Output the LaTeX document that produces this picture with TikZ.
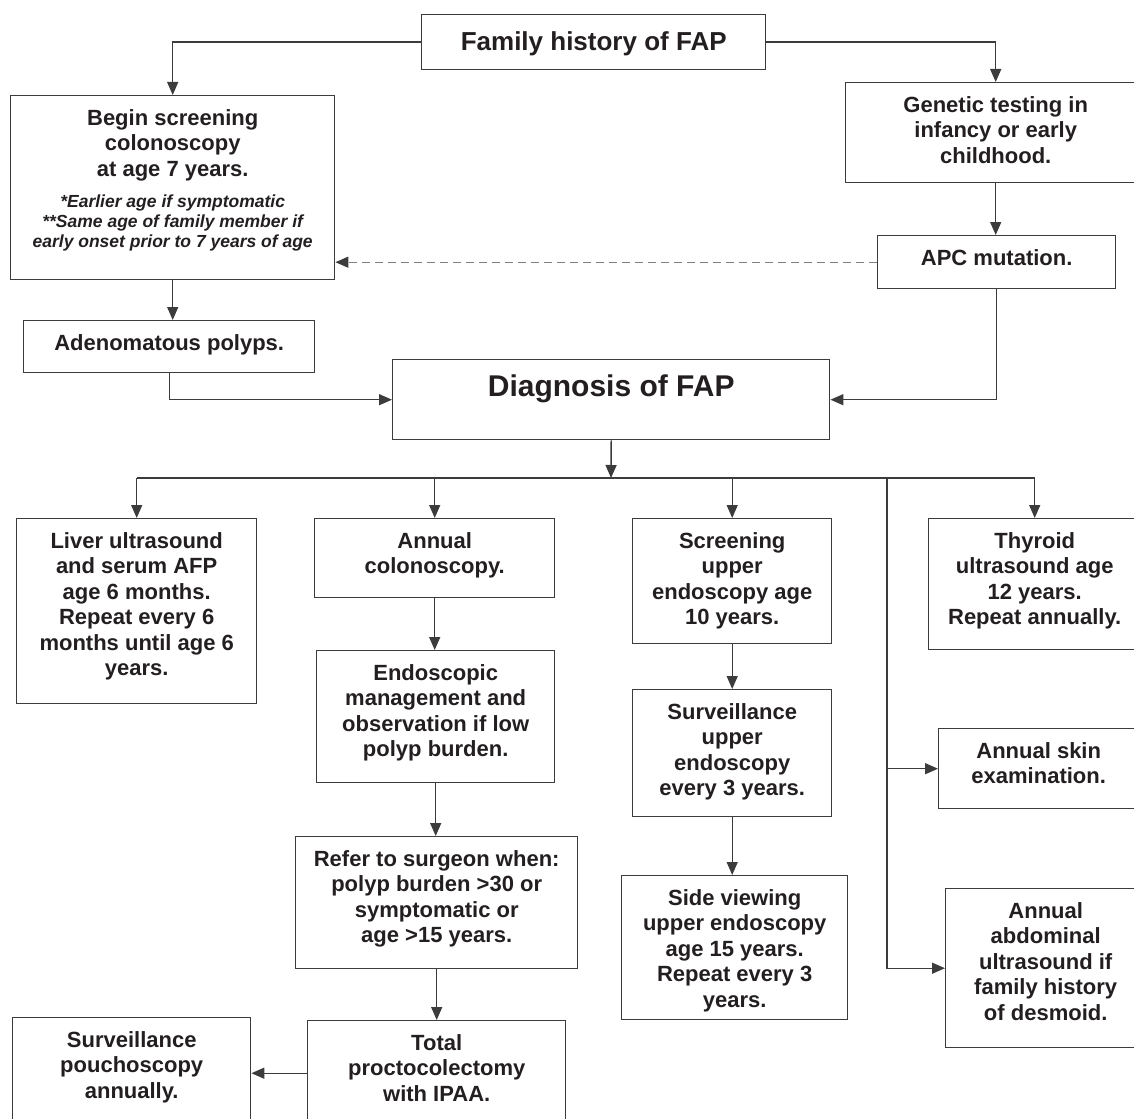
\documentclass[tikz,border=0pt]{standalone}
\usepackage{fontspec}
\setmainfont{Liberation Sans}
\usepackage{tikz}
\usetikzlibrary{positioning,arrows.meta}
\definecolor{linegray}{HTML}{3C3C3C}
\definecolor{inkblack}{HTML}{231F20}

\begin{document}
\begin{tikzpicture}[x=1pt,y=-1pt,
  box/.style={draw=linegray, line width=1.4pt, inner sep=0pt, anchor=north west},
  txt/.style={inner sep=0pt, align=center, text=inkblack, font=\bfseries\fontsize{22}{25.5}\selectfont},
  note/.style={inner sep=0pt, align=center, text=inkblack, font=\bfseries\itshape\fontsize{17.5}{20}\selectfont},
  arr/.style={draw=linegray, line width=1.4pt, -{Triangle[length=13pt,width=11pt,color=linegray]}},
  lin/.style={draw=linegray, line width=1.4pt}]
\useasboundingbox (0,0) rectangle (1134,1118);

% top row
\node[box, minimum width=344pt, minimum height=55pt] (fam) at (421,14) {};
\node[txt, font=\bfseries\fontsize{26}{30}\selectfont, below=17pt of fam.north] (famtxt) {Family history of FAP};

\node[box, minimum width=324pt, minimum height=184pt] (begin) at (10,95) {};
\node[txt, below=14pt of begin.north] (begintxt) {Begin screening\\colonoscopy\\at age 7 years.};
\node[note, below=100pt of begin.north] (beginnote) {*Earlier age if symptomatic\\**Same age of family member if\\early onset prior to 7 years of age};

\node[box, minimum width=300pt, minimum height=100pt] (gen) at (845,82) {};
\node[txt, below=14pt of gen.north] (gentxt) {Genetic testing in\\infancy or early\\childhood.};

\node[box, minimum width=238pt, minimum height=53pt] (apc) at (877,235) {};
\node[txt, below=14pt of apc.north] (apctxt) {APC mutation.};

\node[box, minimum width=291pt, minimum height=52pt] (adeno) at (23,320) {};
\node[txt, below=14pt of adeno.north] (adenotxt) {Adenomatous polyps.};

\node[box, minimum width=437pt, minimum height=80pt] (diag) at (392,359) {};
\node[txt, font=\bfseries\fontsize{30}{34}\selectfont, below=16pt of diag.north] (diagtxt) {Diagnosis of FAP};

% follow-up branches
\node[box, minimum width=240pt, minimum height=185pt] (liver) at (16,518) {};
\node[txt, below=14pt of liver.north] (livertxt) {Liver ultrasound\\and serum AFP\\age 6 months.\\Repeat every 6\\months until age 6\\years.};

\node[box, minimum width=240pt, minimum height=79pt] (anncol) at (314,518) {};
\node[txt, below=14pt of anncol.north] (anncoltxt) {Annual\\colonoscopy.};

\node[box, minimum width=238pt, minimum height=132pt] (endo) at (316,650) {};
\node[txt, below=14pt of endo.north] (endotxt) {Endoscopic\\management and\\observation if low\\polyp burden.};

\node[box, minimum width=282pt, minimum height=132pt] (refer) at (295,836) {};
\node[txt, below=14pt of refer.north] (refertxt) {Refer to surgeon when:\\polyp burden >30 or\\symptomatic or\\age >15 years.};

\node[box, minimum width=258pt, minimum height=105pt] (total) at (307,1020) {};
\node[txt, below=14pt of total.north] (totaltxt) {Total\\proctocolectomy\\with IPAA.};

\node[box, minimum width=238pt, minimum height=108pt] (pouch) at (12,1017) {};
\node[txt, below=14pt of pouch.north] (pouchtxt) {Surveillance\\pouchoscopy\\annually.};

\node[box, minimum width=199pt, minimum height=125pt] (scrn) at (632,518) {};
\node[txt, below=14pt of scrn.north] (scrntxt) {Screening\\upper\\endoscopy age\\10 years.};

\node[box, minimum width=199pt, minimum height=127pt] (surv) at (632,689) {};
\node[txt, below=14pt of surv.north] (survtxt) {Surveillance\\upper\\endoscopy\\every 3 years.};

\node[box, minimum width=226pt, minimum height=144pt] (side) at (621,875) {};
\node[txt, below=14pt of side.north] (sidetxt) {Side viewing\\upper endoscopy\\age 15 years.\\Repeat every 3\\years.};

\node[box, minimum width=212pt, minimum height=131pt] (thyroid) at (928,518) {};
\node[txt, below=14pt of thyroid.north] (thyroidtxt) {Thyroid\\ultrasound age\\12 years.\\Repeat annually.};

\node[box, minimum width=200pt, minimum height=80pt] (skin) at (938,728) {};
\node[txt, below=14pt of skin.north] (skintxt) {Annual skin\\examination.};

\node[box, minimum width=200pt, minimum height=159pt] (abd) at (945,888) {};
\node[txt, below=14pt of abd.north] (abdtxt) {Annual\\abdominal\\ultrasound if\\family history\\of desmoid.};

\coordinate (bus) at (611,478);
\coordinate (vbus) at (887,478);

% connectors
\draw[arr] (fam.west) -| (begin.north);
\draw[arr] (fam.east) -| (gen.north);
\draw[arr] (gen.south) -- (gen.south |- apc.north);
\draw[arr, draw=gray, dash pattern=on 8pt off 5pt] (apc.west) -- (apc.west -| begin.east);
\draw[arr] (begin.south) -- (begin.south |- adeno.north);
\draw[arr] (adeno.south) |- (diag.west);
\draw[arr] (apc.south) |- (diag.east);
\draw[arr] (diag.south) -- (bus);
\draw[lin] (liver.north |- bus) -- (thyroid.north |- bus);
\draw[arr] (liver.north |- bus) -- (liver.north);
\draw[arr] (anncol.north |- bus) -- (anncol.north);
\draw[arr] (scrn.north |- bus) -- (scrn.north);
\draw[arr] (thyroid.north |- bus) -- (thyroid.north);
\draw[arr] (vbus) |- (skin.west);
\draw[arr] (vbus) |- (abd.west);
\draw[arr] (anncol.south) -- (anncol.south |- endo.north);
\draw[arr] (endo.south) -- (endo.south |- refer.north);
\draw[arr] (refer.south) -- (refer.south |- total.north);
\draw[arr] (total.west) -- (total.west -| pouch.east);
\draw[arr] (scrn.south) -- (scrn.south |- surv.north);
\draw[arr] (surv.south) -- (surv.south |- side.north);
\end{tikzpicture}
\end{document}
